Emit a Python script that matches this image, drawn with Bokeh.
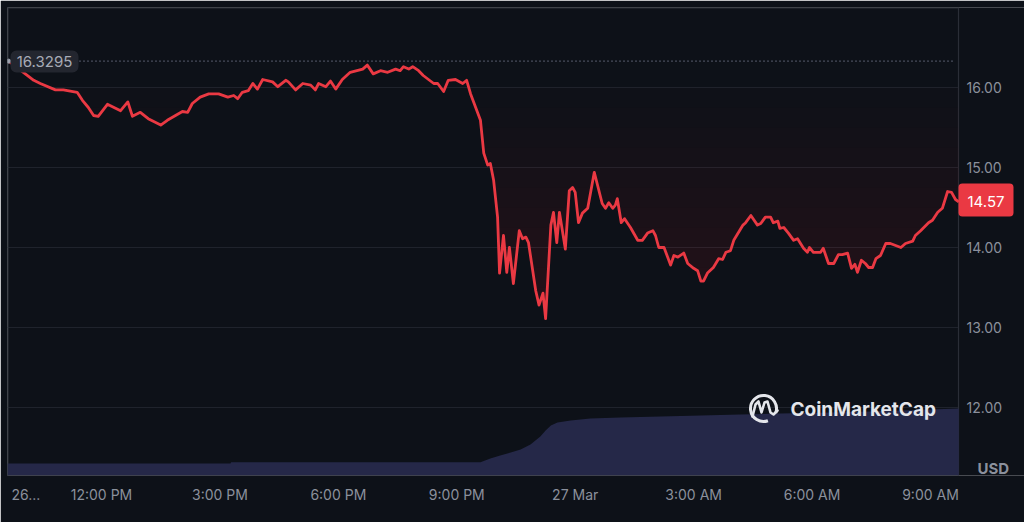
import numpy as np
from bokeh.plotting import figure
from bokeh.models import Range1d, FixedTicker, Label, BoxAnnotation
from bokeh.core.properties import value
from bokeh.embed import file_html
from bokeh.resources import INLINE

# ---------------- data ----------------
PRICE_TIME = [
    "26 09:39", "26 10:17", "26 10:27", "26 10:50", "26 11:02", "26 11:23", "26 11:31", "26 11:40",
    "26 11:48", "26 11:55", "26 12:09", "26 12:29", "26 12:40", "26 12:47", "26 12:59", "26 13:11",
    "26 13:30", "26 13:40", "26 14:03", "26 14:11", "26 14:18", "26 14:30", "26 14:43", "26 14:58",
    "26 15:12", "26 15:21", "26 15:27", "26 15:34", "26 15:43", "26 15:50", "26 15:57", "26 16:05",
    "26 16:20", "26 16:28", "26 16:40", "26 16:44", "26 16:55", "26 17:06", "26 17:18", "26 17:25",
    "26 17:30", "26 17:41", "26 17:48", "26 17:56", "26 18:06", "26 18:18", "26 18:37", "26 18:44",
    "26 18:53", "26 19:04", "26 19:15", "26 19:27", "26 19:34", "26 19:39", "26 19:47", "26 19:53",
    "26 20:02", "26 20:09", "26 20:25", "26 20:31", "26 20:40", "26 20:47", "26 20:58", "26 21:09",
    "26 21:15", "26 21:21", "26 21:36", "26 21:41", "26 21:47", "26 21:51", "26 21:56", "26 22:02",
    "26 22:05", "26 22:11", "26 22:16", "26 22:20", "26 22:26", "26 22:35", "26 22:40", "26 22:45",
    "26 22:49", "26 23:00", "26 23:05", "26 23:11", "26 23:15", "26 23:23", "26 23:27", "26 23:32",
    "26 23:36", "26 23:45", "26 23:51", "26 23:56", "27 00:00", "27 00:05", "27 00:11", "27 00:19",
    "27 00:29", "27 00:41", "27 00:46", "27 00:51", "27 00:57", "27 01:01", "27 01:04", "27 01:10",
    "27 01:15", "27 01:24", "27 01:35", "27 01:42", "27 01:50", "27 01:58", "27 02:02", "27 02:07",
    "27 02:15", "27 02:25", "27 02:30", "27 02:36", "27 02:45", "27 02:51", "27 03:00", "27 03:06",
    "27 03:11", "27 03:15", "27 03:21", "27 03:30", "27 03:38", "27 03:44", "27 03:49", "27 03:56",
    "27 04:01", "27 04:15", "27 04:19", "27 04:27", "27 04:37", "27 04:42", "27 04:49", "27 04:57",
    "27 05:01", "27 05:08", "27 05:11", "27 05:17", "27 05:24", "27 05:32", "27 05:38", "27 05:47",
    "27 05:53", "27 05:56", "27 06:02", "27 06:13", "27 06:17", "27 06:25", "27 06:33", "27 06:40",
    "27 06:46", "27 06:54", "27 07:00", "27 07:05", "27 07:09", "27 07:15", "27 07:21", "27 07:26",
    "27 07:32", "27 07:37", "27 07:44", "27 07:52", "27 07:59", "27 08:15", "27 08:22", "27 08:33",
    "27 08:37", "27 08:45", "27 08:57", "27 09:03", "27 09:11", "27 09:18", "27 09:26", "27 09:32",
    "27 09:38", "27 09:43",
]
PRICE = [
    16.33, 16.09, 16.05, 15.97, 15.97, 15.94, 15.84, 15.75,
    15.65, 15.64, 15.79, 15.71, 15.82, 15.64, 15.69, 15.61,
    15.53, 15.59, 15.70, 15.69, 15.80, 15.88, 15.92, 15.92,
    15.88, 15.90, 15.86, 15.94, 15.96, 16.05, 15.98, 16.10,
    16.07, 16.01, 16.09, 16.07, 15.97, 16.05, 16.03, 15.97,
    16.05, 16.01, 16.08, 15.98, 16.10, 16.19, 16.23, 16.28,
    16.17, 16.21, 16.19, 16.23, 16.21, 16.26, 16.23, 16.26,
    16.21, 16.15, 16.05, 16.05, 15.95, 16.09, 16.10, 16.05,
    16.09, 15.92, 15.59, 15.18, 15.03, 15.05, 14.84, 14.38,
    13.68, 14.15, 13.69, 14.00, 13.55, 14.21, 14.11, 14.13,
    14.06, 13.46, 13.28, 13.43, 13.11, 14.28, 14.44, 14.06,
    14.44, 13.98, 14.71, 14.75, 14.69, 14.31, 14.43, 14.49,
    14.94, 14.55, 14.49, 14.56, 14.49, 14.53, 14.61, 14.31,
    14.36, 14.25, 14.09, 14.09, 14.18, 14.21, 14.15, 14.00,
    14.00, 13.78, 13.90, 13.88, 13.93, 13.80, 13.74, 13.71,
    13.58, 13.58, 13.68, 13.75, 13.86, 13.85, 13.94, 13.96,
    14.09, 14.28, 14.31, 14.40, 14.28, 14.30, 14.38, 14.38,
    14.31, 14.33, 14.24, 14.25, 14.18, 14.09, 14.11, 13.99,
    13.94, 14.00, 13.94, 13.94, 13.99, 13.80, 13.80, 13.91,
    13.91, 13.93, 13.74, 13.79, 13.69, 13.84, 13.80, 13.75,
    13.75, 13.86, 13.90, 14.05, 14.05, 14.00, 14.05, 14.08,
    14.15, 14.21, 14.31, 14.34, 14.44, 14.49, 14.70, 14.69,
    14.60, 14.57,
]
OPEN_PRICE = 16.3295
LAST_PRICE = 14.57

VOL_TIME = ["26 09:37", "26 15:16", "26 15:17", "26 21:36", "26 21:51", "26 22:06", "26 22:22",
            "26 22:37", "26 22:52", "26 23:07", "26 23:15", "26 23:23", "26 23:33", "26 23:53",
            "27 00:23", "27 01:09", "27 02:10", "27 03:11", "27 04:11", "27 05:12", "27 06:28",
            "27 07:29", "27 08:15", "27 09:43"]
VOL = [18, 18, 20, 20, 25.5, 30, 34.5, 39, 46.5, 58.5, 67.5, 75, 79.5, 82.5,
       85.5, 87, 88.5, 90, 91.5, 93, 94.5, 96, 97.5, 100.5]  # $M

X_TICK_TIME = ["26 10:05", "26 12:00", "26 15:00", "26 18:00", "26 21:00",
               "27 00:00", "27 03:00", "27 06:00", "27 09:00"]
X_TICK_LABEL = ["26...", "12:00 PM", "3:00 PM", "6:00 PM", "9:00 PM",
                "27 Mar", "3:00 AM", "6:00 AM", "9:00 AM"]
Y_TICKS = [12, 13, 14, 15, 16]
Y_TICK_LABEL = ["12.00", "13.00", "14.00", "15.00", "16.00"]


def to_min(s):
    d, hm = s.split(" ")
    h, m = hm.split(":")
    return (int(d) - 26) * 1440 + int(h) * 60 + int(m)


px = np.array([to_min(t) for t in PRICE_TIME], dtype=float)
py = np.array(PRICE, dtype=float)
vx = np.array([to_min(t) for t in VOL_TIME], dtype=float)
vy = np.array(VOL, dtype=float)
xt = [to_min(t) for t in X_TICK_TIME]

BG = "#0d1118"
RED = "#ea3943"
GREY = "#8b909c"
BORDER = "#2a2e37"
FONT = "Inter"
W, H = 1024, 522


# page-pixel -> data helpers (used only for placing decorations)
def sx(page_x):
    return 720 + (page_x - 101) * 60 / 39.476


def sy(page_y):
    return 16 - (page_y - 87) / 80


LEFT, TOP, BOTTOM, PLOT_RIGHT = 7, 7, 475, 958
X0, X1 = sx(LEFT), sx(W)
Y0, Y1 = sy(BOTTOM), sy(TOP)

p = figure(width=W, height=H, x_range=Range1d(X0, X1), y_range=Range1d(Y0, Y1),
           output_backend="svg", toolbar_location=None,
           min_border_left=LEFT, min_border_top=TOP, min_border_right=0,
           min_border_bottom=H - BOTTOM)
p.background_fill_color = BG
p.border_fill_color = BG
p.outline_line_color = None
p.yaxis.visible = False
p.grid.visible = False

p.extra_y_ranges = {"vol": Range1d(0, (BOTTOM - TOP) * 1.5)}

# x axis (real axis, bottom)
p.xaxis.ticker = FixedTicker(ticks=xt)
p.xaxis.major_label_overrides = {t: l for t, l in zip(xt, X_TICK_LABEL)}
p.xaxis.axis_line_color = None
p.xaxis.major_tick_line_color = None
p.xaxis.minor_tick_line_color = None
p.xaxis.major_label_text_color = GREY
p.xaxis.major_label_text_font = FONT
p.xaxis.major_label_text_font_size = "14px"
p.xaxis.major_label_standoff = 4

xr = sx(PLOT_RIGHT)

# horizontal grid lines (stop at the price-scale border)
p.segment(x0=X0, x1=xr, y0=Y_TICKS, y1=Y_TICKS, line_color="#1f232c", line_width=1)

# frame border: top, left, right
p.segment(x0=[X0, sx(7.5), xr], x1=[xr, sx(7.5), xr],
          y0=[sy(7.5), Y0, Y0], y1=[sy(7.5), Y1, Y1],
          line_color=BORDER, line_width=1.2)

# price scale labels
p.text(x=[sx(966)] * len(Y_TICKS), y=Y_TICKS, text=Y_TICK_LABEL,
       text_font=value(FONT), text_font_size="14px", text_color=GREY,
       text_baseline="middle", text_align="left")

# volume
p.varea(x=vx, y1=0, y2=vy, y_range_name="vol", fill_color="#252848", fill_alpha=1.0)

# gradient-like fill between price and the opening price
for L in np.arange(16.0, 12.9, -0.25):
    p.varea(x=px, y1=py, y2=np.maximum(py, np.minimum(L, OPEN_PRICE)),
            fill_color=RED, fill_alpha=0.013)

# reference (opening price) dotted line
p.line([X0, sx(955)], [OPEN_PRICE, OPEN_PRICE], line_color="#80869a",
       line_dash="1 3", line_width=1.2)

# price line
p.line(px, py, line_color=RED, line_width=2.8, line_join="round")
p.scatter([px[0]], [OPEN_PRICE], size=4, color="#9ca1ad")

# open price tag
p.add_layout(BoxAnnotation(left=sx(10), right=sx(78), top=sy(50), bottom=sy(72),
                           fill_color="#23262f", fill_alpha=1.0, line_color=None,
                           border_radius=6, level="annotation"))
p.add_layout(Label(x=sx(44), y=OPEN_PRICE, text="16.3295", text_baseline="middle",
                   text_align="center", text_font=FONT, text_font_size="15px",
                   text_color="#a7abb6", level="overlay"))

# last price tag
p.add_layout(BoxAnnotation(left=sx(958), right=sx(1013), top=sy(183), bottom=sy(216),
                           fill_color=RED, fill_alpha=1.0, line_color=None,
                           border_radius=4, level="annotation"))
p.add_layout(Label(x=sx(985.5), y=LAST_PRICE, text="14.57", text_baseline="middle",
                   text_align="center", text_font=FONT, text_font_size="15px",
                   text_color="white", level="overlay"))

# USD
p.add_layout(Label(x=sx(977), y=sy(468), text="USD", text_baseline="middle",
                   text_font=FONT, text_font_size="15px", text_font_style="bold",
                   text_color=GREY))

# CoinMarketCap watermark
p.add_layout(Label(x=sx(790), y=sy(409), text="CoinMarketCap", text_baseline="middle",
                   text_font=FONT, text_font_size="19px", text_font_style="bold",
                   text_color="#e4e6eb"))
p.arc(x=[sx(763)], y=[sy(408)], radius=13, radius_units="screen",
      start_angle=-0.35, end_angle=5.06, direction="anticlock",
      line_color="#e4e6eb", line_width=3)
wx = [752, 755, 758, 761, 764, 767, 770, 773, 777]
wy = [416, 404, 401, 412, 402, 401, 412, 414, 410]
p.line([sx(v) for v in wx], [sy(v) for v in wy], line_color="#e4e6eb",
       line_width=2.6, line_join="round", line_cap="round")

html = file_html(p, INLINE)
html = html.replace("<body>", '<body style="background:%s;">' % BG, 1)
open("out.html", "w").write(html)
